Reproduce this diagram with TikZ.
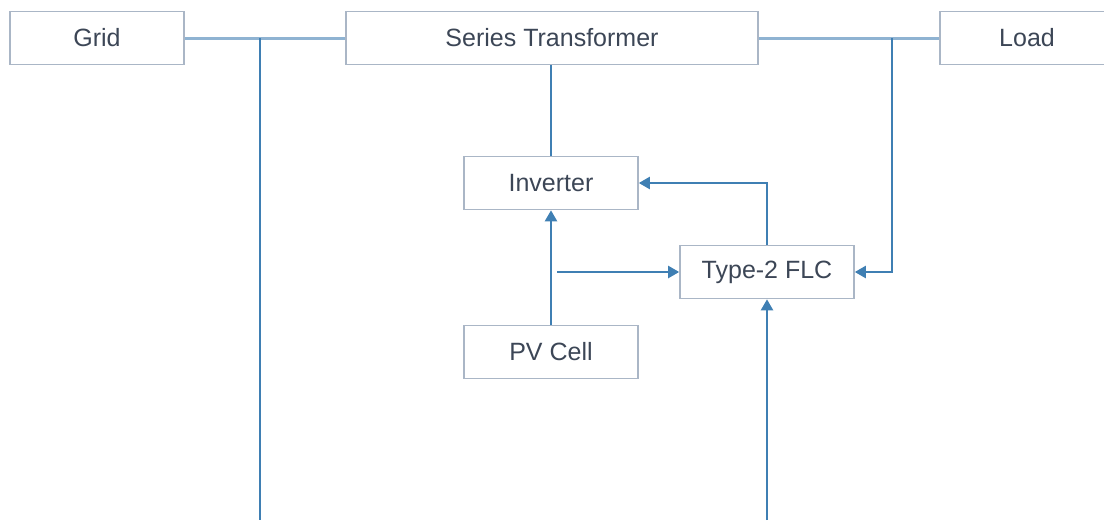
\documentclass[tikz,border=0pt]{standalone}
\usepackage{fontspec}
\setmainfont{Liberation Sans}
\usetikzlibrary{arrows.meta}
\definecolor{boxline}{HTML}{AAB6C6}
\definecolor{busline}{HTML}{8FB3D2}
\definecolor{wireline}{HTML}{3F7FB3}
\definecolor{labeltext}{HTML}{3C4656}
\begin{document}
\begin{tikzpicture}[x=1pt,y=-1pt,
  block/.style={draw=boxline,line width=1.6pt,minimum width=174pt,minimum height=53pt,
    inner sep=0pt,text=labeltext,font=\fontsize{25}{29}\selectfont},
  bus/.style={draw=busline,line width=3pt},
  wire/.style={draw=wireline,line width=2.2pt},
  sig/.style={wire,-{Triangle[length=11pt,width=12pt]}}]
\useasboundingbox (0,0) rectangle (1104,520);
% boxes
\node[block] (grid) at (97,38) {Grid};
\node[block,minimum width=412pt] (st) at (552,38) {Series Transformer};
\node[block] (load) at (1027,38) {Load};
\node[block] (inv) at (551,183) {Inverter};
\node[block] (pv) at (551,352) {PV Cell};
\node[block] (flc) at (767,272) {Type-2 FLC};
% taps
\coordinate (tapL) at (260,38);
\coordinate (tapR) at (892,38);
\coordinate (botL) at (260,520);
\coordinate (botR) at (767,520);
\coordinate (tapPV) at (557,272);
% bus
\draw[bus] (grid.east) -- (st.west);
\draw[bus] (st.east) -- (load.west);
% connections
\draw[wire] (tapL) -- (botL);
\draw[wire] (inv.north |- st.south) -- (inv.north);
\draw[sig] (tapR) |- (flc.east);
\draw[sig] (pv.north) -- (inv.south);
\draw[sig] (tapPV) -- (flc.west);
\draw[sig] (flc.north) |- (inv.east);
\draw[sig] (botR) -- (flc.south);
\end{tikzpicture}
\end{document}
